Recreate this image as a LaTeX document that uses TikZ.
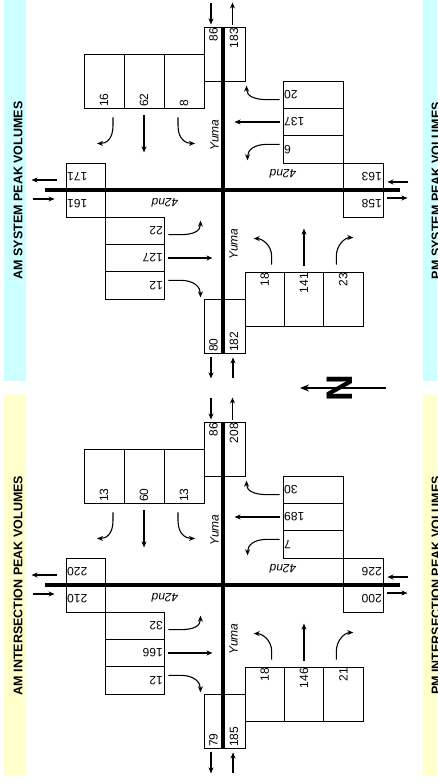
\documentclass[tikz,border=0pt]{standalone}
\usepackage{fontspec}
\setmainfont{Liberation Sans}
\usetikzlibrary{arrows.meta}
\definecolor{sysband}{HTML}{CCFFFF}
\definecolor{intband}{HTML}{FFFFCC}

\begin{document}
\begin{tikzpicture}[x=1pt, y=-1pt,
    cell/.style={draw, line width=0.9pt, inner sep=0pt},
    num/.style={font=\fontsize{12}{14}\selectfont, inner sep=1.5pt},
    street/.style={font=\fontsize{12}{14}\selectfont\itshape, inner sep=0pt},
    band/.style={font=\fontsize{12.5}{15}\selectfont\bfseries, rotate=90, inner sep=0pt},
    road/.style={line width=4.5pt},
    legarrow/.style={line width=1.1pt, -{Stealth[length=6pt,width=5pt]}},
    movearrow/.style={line width=1.1pt, -{Stealth[length=6pt,width=5pt]}}]
  \useasboundingbox (0,0) rectangle (437,783);
  \clip (0,0) rectangle (437,783);
  \foreach \dy/\col/\ttl/\ta/\tb/\tc/\td/\te/\la/\lb/\lc/\ld/\le/\ba/\bb/\bc/\bd/\be/\ra/\rb/\rc/\rd/\re in
    {0/sysband/SYSTEM/86/183/16/62/8/171/161/22/127/12/80/182/18/141/23/163/158/20/137/6,
     395/intband/INTERSECTION/86/208/13/60/13/220/210/32/166/12/79/185/18/146/21/226/200/30/189/7}
  {
  \begin{scope}[shift={(0,\dy)}]
    \fill[fill=\col] (4,0) rectangle (26,381);
    \fill[fill=\col] (423,0) rectangle (445,381);
    \node[band] (amttl) at (18,190.5) {AM \ttl{} PEAK VOLUMES};
    \node[band] (pmttl) at (436,190.5) {PM \ttl{} PEAK VOLUMES};
    % top leg
    \node[cell, minimum width=19pt, minimum height=54pt] (tin) at (213.5,54) {};
    \node[cell, minimum width=22pt, minimum height=54pt] (tout) at (234,54) {};
    \node[num, rotate=90, anchor=east] (tinv) at (tin.north) {\ta};
    \node[num, rotate=90, anchor=east] (toutv) at (tout.north) {\tb};
    \draw[legarrow] ([xshift=-2.5pt]tin.north) ++(0,-24) -- ++(0,22);
    \draw[legarrow] ([xshift=-1.5pt]tout.north) ++(0,-2) -- ++(0,-22);
    \foreach \i/\v in {1/\tc,2/\td,3/\te} {
      \node[cell, minimum width=40pt, minimum height=54pt] (tl\i) at (64+40*\i,81) {};
      \node[num, rotate=90, anchor=west] (tv\i) at (tl\i.south) {\v};
    }
    \draw[movearrow] ([xshift=9pt]tl1.south) ++(0,9) -- ++(0,8) .. controls +(0,14) and +(9,0) .. ++(-16,18);
    \draw[movearrow] (tl2.south) ++(0,7) -- ++(0,37);
    \draw[movearrow] ([xshift=-6pt]tl3.south) ++(0,9) -- ++(0,8) .. controls +(0,14) and +(-9,0) .. ++(17,18);
    \node[street, rotate=90] (yumat) at (214.5,135) {Yuma};
    % left leg
    \node[cell, minimum width=39.5pt, minimum height=27pt] (lout) at (85.75,176.5) {};
    \node[cell, minimum width=39.5pt, minimum height=27pt] (lin) at (85.75,203.5) {};
    \node[num, rotate=180, anchor=east] (loutv) at (lout.west) {\la};
    \node[num, rotate=180, anchor=east] (linv) at (lin.west) {\lb};
    \draw[legarrow] ([yshift=-3.5pt]lout.west) ++(-9,0) -- ++(-25,0);
    \draw[legarrow] ([yshift=4.5pt]lin.west) ++(-33,0) -- ++(22,0);
    \foreach \i/\v in {1/\lc,2/\ld,3/\le} {
      \node[cell, minimum width=58.5pt, minimum height=27.33pt] (ll\i) at (134.75,203.33+27.33*\i) {};
      \node[num, rotate=180, anchor=west] (lv\i) at (ll\i.east) {\v};
    }
    \draw[movearrow] (ll1.east) ++(4,4) -- ++(12,0) .. controls +(14,0) and +(0,10) .. ++(20,-14);
    \draw[movearrow] (ll2.east) ++(4,0) -- ++(44,0);
    \draw[movearrow] (ll3.east) ++(4,-5) -- ++(12,0) .. controls +(14,0) and +(0,-10) .. ++(20,17);
    \node[street, rotate=180] (ndl) at (165,203) {42nd};
    % bottom leg
    \node[cell, minimum width=19pt, minimum height=54pt] (bout) at (213.5,326) {};
    \node[cell, minimum width=22pt, minimum height=54pt] (bin) at (234,326) {};
    \node[num, rotate=90, anchor=west] (boutv) at (bout.south) {\ba};
    \node[num, rotate=90, anchor=west] (binv) at (bin.south) {\bb};
    \draw[legarrow] ([xshift=-2.5pt]bout.south) ++(0,4) -- ++(0,21);
    \draw[legarrow] ([xshift=-1pt]bin.south) ++(0,25) -- ++(0,-21);
    \foreach \i/\v in {1/\bc,2/\bd,3/\be} {
      \node[cell, minimum width=39.33pt, minimum height=54pt] (bl\i) at (225.33+39.33*\i,299) {};
      \node[num, rotate=90, anchor=east] (bv\i) at (bl\i.north) {\v};
    }
    \draw[movearrow] ([xshift=7pt]bl1.north) ++(0,-7) -- ++(0,-8) .. controls +(0,-12) and +(8,0) .. ++(-18,-18);
    \draw[movearrow] (bl2.north) ++(0,-6) -- ++(0,-37);
    \draw[movearrow] ([xshift=-7pt]bl3.north) ++(0,-7) -- ++(0,-8) .. controls +(0,-12) and +(-8,0) .. ++(17,-19);
    \node[street, rotate=90] (yumab) at (233.5,244) {Yuma};
    % right leg
    \node[cell, minimum width=40pt, minimum height=27pt] (rin) at (363,176.5) {};
    \node[cell, minimum width=40pt, minimum height=27pt] (rout) at (363,203.5) {};
    \node[num, rotate=180, anchor=west] (rinv) at (rin.east) {\ra};
    \node[num, rotate=180, anchor=west] (routv) at (rout.east) {\rb};
    \draw[legarrow] ([yshift=-5.5pt]rin.east) ++(25,0) -- ++(-21,0);
    \draw[legarrow] ([yshift=5.5pt]rout.east) ++(4,0) -- ++(20,0);
    \foreach \i/\v in {1/\rc,2/\rd,3/\re} {
      \node[cell, minimum width=60pt, minimum height=27.33pt] (rl\i) at (313,67.33+27.33*\i) {};
      \node[num, rotate=180, anchor=east] (rv\i) at (rl\i.west) {\v};
    }
    \draw[movearrow] (rl1.west) ++(-3,5) -- ++(-12,0) .. controls +(-14,0) and +(0,10) .. ++(-21,-14);
    \draw[movearrow] (rl2.west) ++(-3,0) -- ++(-45,0);
    \draw[movearrow] (rl3.west) ++(-3,-5) -- ++(-12,0) .. controls +(-14,0) and +(0,-10) .. ++(-20,16);
    \node[street, rotate=180] (ndr) at (283,174) {42nd};
    % streets
    \draw[road] (223,27) -- (223,353);
    \draw[road] (45,190) -- (400,190);
  \end{scope}
  }
  % north arrow
  \node[font=\fontsize{37}{37}\selectfont\bfseries, rotate=90, inner sep=0pt] (north) at (340,388) {N};
  \draw[line width=1.5pt, -{Stealth[length=9pt,width=7pt]}] ([xshift=46pt]north.center) -- ([xshift=-40pt]north.center);
\end{tikzpicture}
\end{document}
